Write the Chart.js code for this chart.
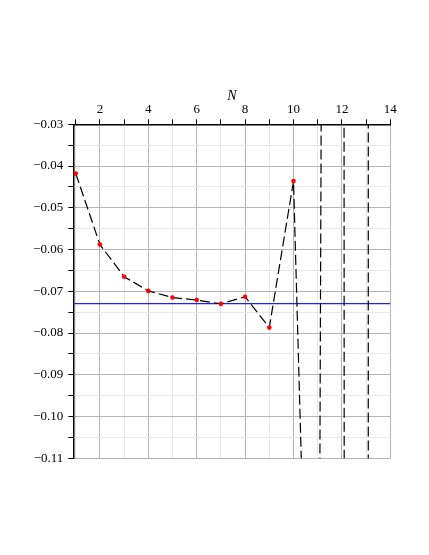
<!DOCTYPE html>
<html>
<head>
<meta charset="utf-8">
<script src="https://cdn.jsdelivr.net/npm/chart.js@4"></script>
<style>
  html, body { margin: 0; padding: 0; background: #fff; }
  #wrap { position: relative; width: 429px; height: 555px; }
</style>
</head>
<body>
<div id="wrap"><canvas id="chart"></canvas></div>
<script>
// ─── DATA ─────────────────────────────────────────────────
// N = 1..14, values from N = 11 on blow up far off the plotted range
const N_VALUES = [1, 2, 3, 4, 5, 6, 7, 8, 9, 10, 11, 12, 13, 14];
const E_VALUES = [-0.0418, -0.0588, -0.0665, -0.0699, -0.0715, -0.0721, -0.0730,
                  -0.0713, -0.0787, -0.0436, -0.251, 1.3, -13.6, 137];
// horizontal reference level (blue)
const REF_X = [0.9, 14];
const REF_Y = [-0.07297, -0.07297];

// ─── COLORS ───────────────────────────────────────────────
const GRID_MAJOR = '#b4b4b4';
const GRID_MINOR = '#e8e8e8';

Chart.defaults.font.family = "'Liberation Serif', 'DejaVu Serif', serif";
Chart.defaults.font.size = 13;
Chart.defaults.color = '#000';

// linear scale without the int16 pixel clamp, so the far-off points
// keep their true slope when the segments are clipped to the plot
class FreeLinearScale extends Chart.LinearScale {
  getPixelForDecimal(decimal) {
    if (this._reversePixels) decimal = 1 - decimal;
    return this._startPixel + decimal * this._length;
  }
}
FreeLinearScale.id = 'freeLinear';
FreeLinearScale.defaults = Chart.LinearScale.defaults;
Chart.register(FreeLinearScale);

const PAD_TOP = 88;
const AREA_TOP = 124.3;
const AREA_LEFT = 73.3;

const isMajorY = v => Math.abs(Math.round(v * 1000)) % 10 === 0;

new Chart(document.getElementById('chart'), {
  type: 'line',
  data: {
    datasets: [
      {
        data: N_VALUES.map((n, i) => ({ x: n, y: E_VALUES[i] })),
        borderColor: '#000',
        borderWidth: 1.2,
        borderDash: [10, 4],
        tension: 0,
        pointRadius: 2.3,
        pointBackgroundColor: '#ff0000',
        pointBorderWidth: 0,
      },
      {
        data: REF_X.map((x, i) => ({ x, y: REF_Y[i] })),
        borderColor: '#2020ff',
        borderWidth: 1.3,
        pointRadius: 0,
      },
    ],
  },
  options: {
    responsive: true,
    maintainAspectRatio: false,
    animation: false,
    layout: { padding: { left: 0, top: PAD_TOP, right: 38.7, bottom: 96.7 } },
    plugins: { legend: { display: false }, tooltip: { enabled: false } },
    scales: {
      x: {
        type: 'linear',
        position: 'top',
        min: 0.9,
        max: 14,
        ticks: {
          stepSize: 1,
          includeBounds: false,
          autoSkip: false,
          maxRotation: 0,
          padding: 2,
          callback: v => (v % 2 === 0 ? String(v) : ''),
        },
        grid: {
          color: ctx => (ctx.tick && ctx.tick.value % 2 === 0 ? GRID_MAJOR : GRID_MINOR),
          tickColor: '#000',
          tickLength: 5,
        },
        border: { color: '#000', width: 1.5 },
        title: {
          display: true,
          text: 'N',
          font: { style: 'italic', size: 14 },
          padding: { top: 0, bottom: 0 },
        },
        afterFit: s => { s.height = AREA_TOP - PAD_TOP; },
      },
      y: {
        type: 'freeLinear',
        min: -0.11,
        max: -0.03,
        ticks: {
          stepSize: 0.005,
          autoSkip: false,
          padding: 5,
          callback: v => (isMajorY(v) ? v.toFixed(2).replace('-', '\u2212') : ''),
        },
        grid: {
          color: ctx => (ctx.tick && isMajorY(ctx.tick.value) ? GRID_MAJOR : GRID_MINOR),
          tickColor: '#000',
          tickLength: 5,
        },
        border: { color: '#000', width: 1.5 },
        afterFit: s => { s.width = AREA_LEFT; },
      },
    },
  },
});
</script>
</body>
</html>
